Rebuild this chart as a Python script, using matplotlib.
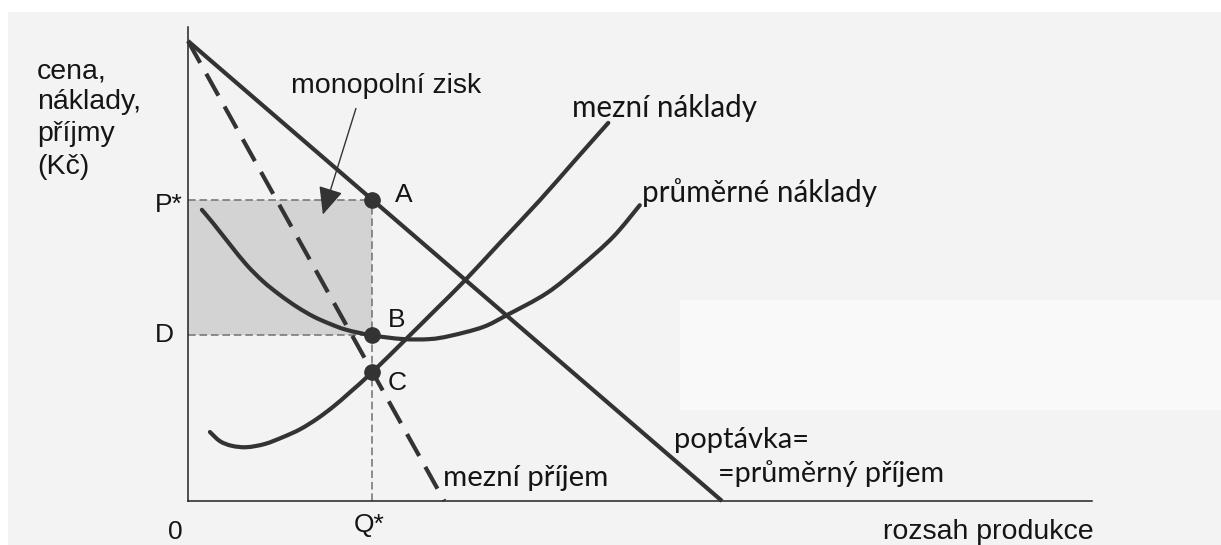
import matplotlib
matplotlib.use("Agg")
import matplotlib.pyplot as plt
from matplotlib.patches import Rectangle, FancyArrowPatch, PathPatch
from matplotlib.path import Path

# --- model values (quantity on x, Kč on y) ---
demand_q = [0, 100]
demand_p = [100, 0]

mr_q = [0, 48]
mr_p = [100, 0]

mc_q = [4.1, 6.0, 8.2, 11.0, 14.4, 17.8, 21.0, 24.2, 27.3, 30.3, 34.5,
        41.0, 46.3, 51.9, 58.4, 65.9, 72.5, 78.7]
mc_c = [15.0, 13.0, 12.0, 11.7, 12.4, 13.9, 15.6, 17.9, 20.6, 23.6, 28.0,
        35.4, 41.5, 48.0, 56.1, 65.4, 74.1, 82.2]

ac_q = [2.6, 4.7, 7.9, 11.0, 14.1, 17.2, 20.4, 23.5, 26.6, 29.7, 34.5,
        40.3, 45.3, 49.1, 55.2, 59.7, 67.2, 73.4, 79.6, 84.6]
ac_c = [63.3, 60.4, 55.7, 51.3, 47.7, 44.8, 42.2, 40.1, 38.5, 37.2, 36.0,
        35.2, 35.2, 35.9, 37.8, 40.4, 45.2, 50.9, 57.4, 64.3]

q_star = 34.5
p_star = 65.5
d_level = 36.0
c_level = 28.0

point_names = ["A", "B", "C"]
point_q = [q_star, q_star, q_star]
point_p = [p_star, d_level, c_level]

y_label_lines = ["cena,", "náklady,", "příjmy", "(Kč)"]

INK = "#333333"
ARIAL = "Liberation Sans"
CALIBRI = "Lato"

W, H = 1221, 545
fig = plt.figure(figsize=(W / 100, H / 100), dpi=100)
fig.patch.set_facecolor("white")

ax = fig.add_axes([0, 0, 1, 1])
ax.set_xlim(-188 / 5.34, (W - 188) / 5.34)
ax.set_ylim((501 - H) / 4.6, 501 / 4.6)
ax.axis("off")
ax.patch.set_alpha(0)

# page tone of the printed sheet
ax.add_patch(Rectangle((8 / W, 0), 1 - 8 / W, 1 - 12 / H,
                       transform=ax.transAxes, facecolor="#f3f3f3",
                       edgecolor="none", zorder=0))
ax.add_patch(Rectangle((680 / W, 1 - 410 / H), 1 - 680 / W, 110 / H,
                       transform=ax.transAxes, facecolor="#f9f9f9",
                       edgecolor="none", zorder=0))

# monopoly profit area
ax.add_patch(Rectangle((0, d_level), q_star, p_star - d_level,
                       facecolor="#d3d3d3", edgecolor="none", zorder=1))

# guide lines
guide = dict(color="#707070", lw=1.1, dashes=(5, 2.5), zorder=2)
ax.plot([0, q_star], [p_star, p_star], **guide)
ax.plot([0, q_star], [d_level, d_level], **guide)
ax.plot([q_star, q_star], [0, p_star], **guide)

# axes
ax.plot([0, 0], [0, 103], color="#222222", lw=1.1, zorder=3)
ax.plot([0, 169.3], [0, 0], color="#222222", lw=1.1, zorder=3)


def smooth_path(xs, ys):
    """Cubic Bezier path passing through the given points (Catmull-Rom handles)."""
    pts = list(zip(xs, ys))
    n = len(pts)
    verts = [pts[0]]
    codes = [Path.MOVETO]
    for i in range(n - 1):
        p0 = pts[max(i - 1, 0)]
        p1 = pts[i]
        p2 = pts[i + 1]
        p3 = pts[min(i + 2, n - 1)]
        c1 = (p1[0] + (p2[0] - p0[0]) / 6, p1[1] + (p2[1] - p0[1]) / 6)
        c2 = (p2[0] - (p3[0] - p1[0]) / 6, p2[1] - (p3[1] - p1[1]) / 6)
        verts += [c1, c2, p2]
        codes += [Path.CURVE4] * 3
    return Path(verts, codes)


# curves
ax.plot(demand_q, demand_p, color=INK, lw=3.0, solid_capstyle="butt", zorder=4)
for xs, ys in [(mc_q, mc_c), (ac_q, ac_c)]:
    ax.add_patch(PathPatch(smooth_path(xs, ys), facecolor="none",
                           edgecolor=INK, lw=3.0, capstyle="round", zorder=4))
mr_line, = ax.plot(mr_q, mr_p, color=INK, lw=3.0, zorder=4)
mr_line.set_dashes((6, 3))

ax.plot(point_q, point_p, "o", color=INK, ms=11, zorder=5)

# arrow pointing into the profit rectangle
ax.add_patch(FancyArrowPatch((31.6, 85.9), (25.1, 61.7),
                             arrowstyle="-|>,head_length=0.85,head_width=0.38",
                             mutation_scale=20, color=INK, lw=1.0, zorder=6))


def X(px):
    return (px - 188) / 5.34


def Y(py):
    return (501 - py) / 4.6


txt = dict(color="#151515", zorder=7, clip_on=False)

for line, base in zip(y_label_lines, [78, 109, 141, 174]):
    ax.text(X(37), Y(base), line, family=ARIAL, fontsize=20.5,
            ha="left", va="baseline", **txt)

ax.text(X(291), Y(93), "monopolní zisk", family=ARIAL, fontsize=20.5,
        ha="left", va="baseline", **txt)
ax.text(X(883), Y(539), "rozsah produkce", family=ARIAL, fontsize=20.5,
        ha="left", va="baseline", **txt)

ax.text(X(395), Y(202), point_names[0], family=ARIAL, fontsize=19,
        ha="left", va="baseline", **txt)
ax.text(X(388), Y(327), point_names[1], family=ARIAL, fontsize=19,
        ha="left", va="baseline", **txt)
ax.text(X(388), Y(390), point_names[2], family=ARIAL, fontsize=19,
        ha="left", va="baseline", **txt)

ax.text(X(183), Y(212), "P*", family=ARIAL, fontsize=19,
        ha="right", va="baseline", **txt)
ax.text(X(174), d_level, "D", family=ARIAL, fontsize=19,
        ha="right", va="center", **txt)
ax.text(q_star - 0.5, Y(532), "Q*", family=ARIAL, fontsize=19,
        ha="center", va="baseline", **txt)
ax.text(X(175), Y(539), "0", family=ARIAL, fontsize=19,
        ha="center", va="baseline", **txt)

ax.text(X(572), Y(117), "mezní náklady", family=CALIBRI, fontsize=21.3,
        ha="left", va="baseline", **txt)
ax.text(X(642), Y(202), "průměrné náklady", family=CALIBRI, fontsize=21.3,
        ha="left", va="baseline", **txt)
ax.text(X(674), Y(448), "poptávka=", family=CALIBRI, fontsize=21,
        ha="left", va="baseline", **txt)
ax.text(X(718), Y(482), "=průměrný příjem", family=CALIBRI, fontsize=20.7,
        ha="left", va="baseline", **txt)
ax.text(X(443), Y(486), "mezní příjem", family=CALIBRI, fontsize=21.2,
        ha="left", va="baseline", **txt)

fig.savefig("out.png", dpi=100, facecolor=fig.get_facecolor())
